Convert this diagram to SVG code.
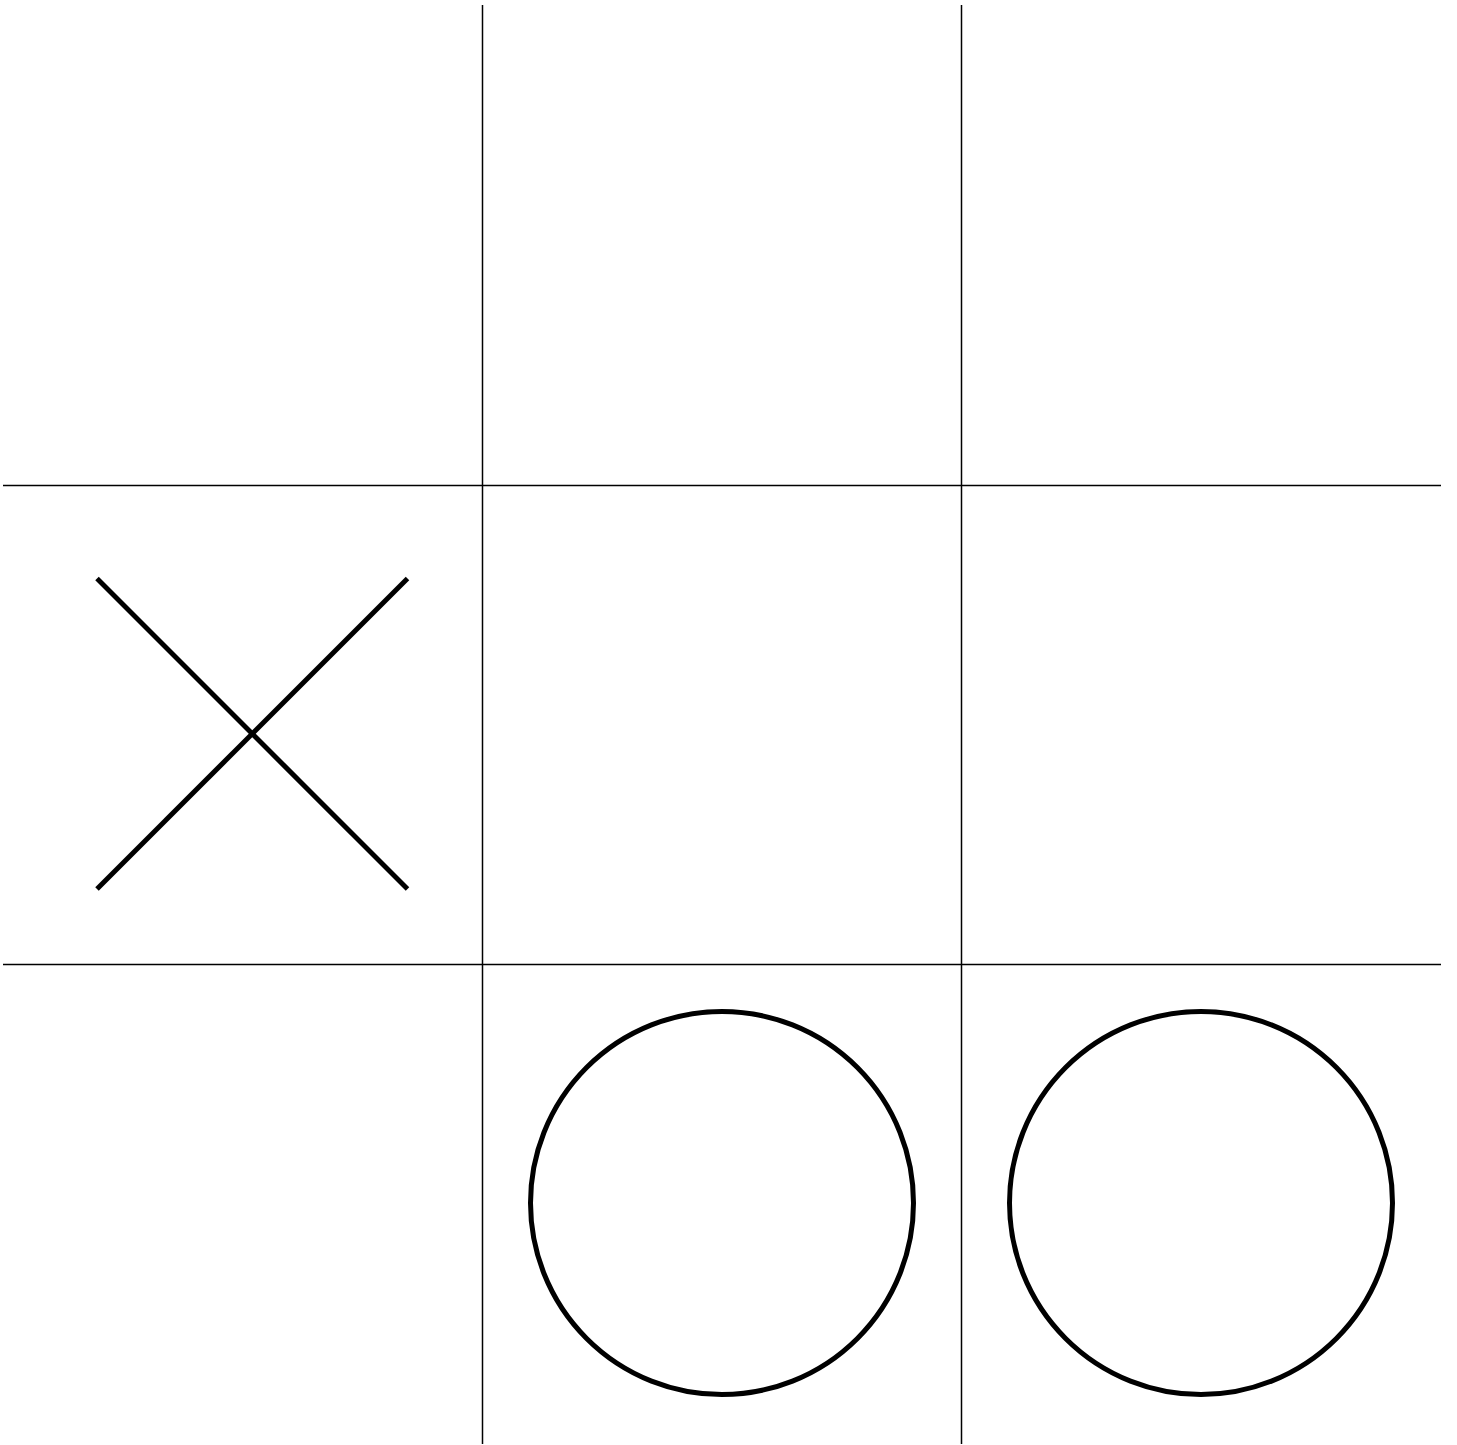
<svg xmlns="http://www.w3.org/2000/svg" width="1457" height="1445" viewBox="0 0 1457 1445">
<style>
.grid{stroke:#000;stroke-width:1.5;fill:none}
.mark{stroke:#000;stroke-width:5;fill:none}
</style>
<rect width="1457" height="1445" fill="#fff"/>
<g id="grid">
<line class="grid" x1="482.5" y1="5" x2="482.5" y2="1444"/>
<line class="grid" x1="961.5" y1="5" x2="961.5" y2="1444"/>
<line class="grid" x1="3" y1="485.5" x2="1441" y2="485.5"/>
<line class="grid" x1="3" y1="964.5" x2="1441" y2="964.5"/>
</g>
<g id="x-mark">
<line class="mark" x1="97" y1="578.5" x2="407.5" y2="889"/>
<line class="mark" x1="407.5" y1="578.5" x2="97" y2="889"/>
</g>
<g id="o-mark-1">
<circle class="mark" cx="722" cy="1203" r="191.5"/>
</g>
<g id="o-mark-2">
<circle class="mark" cx="1201" cy="1203" r="191.5"/>
</g>
</svg>
